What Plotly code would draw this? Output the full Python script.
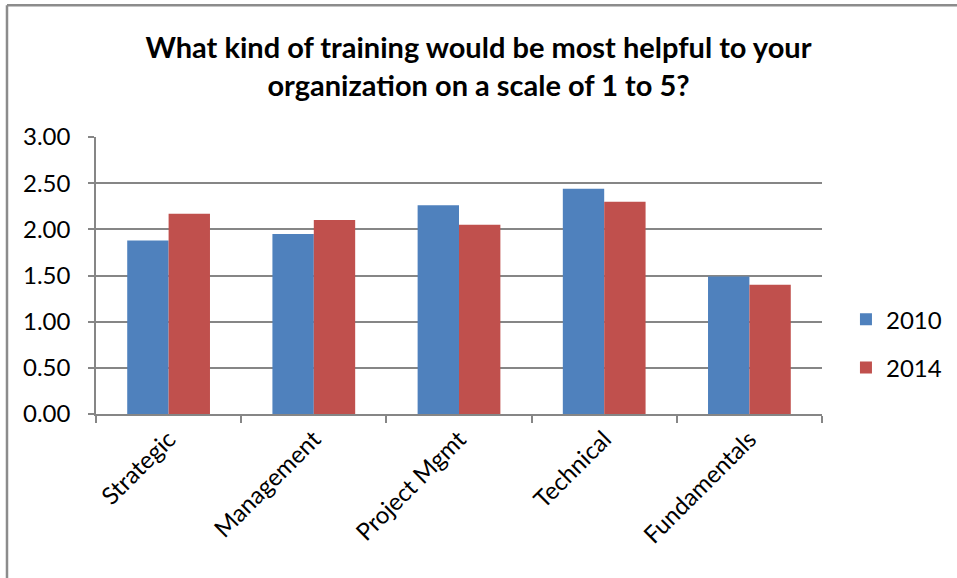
import plotly.graph_objects as go

CATEGORIES = ["Strategic", "Management", "Project Mgmt", "Technical", "Fundamentals"]
VALUES_2010 = [1.88, 1.95, 2.26, 2.44, 1.49]
VALUES_2014 = [2.17, 2.10, 2.05, 2.30, 1.40]
SERIES = [("2010", VALUES_2010, "#4F81BD"), ("2014", VALUES_2014, "#C0504D")]
Y_TICKS = [0, 0.5, 1.0, 1.5, 2.0, 2.5, 3.0]

FONT = "Lato, Calibri, 'Open Sans', sans-serif"
GRID = "#868686"

fig = go.Figure()
for name, vals, color in SERIES:
    fig.add_trace(go.Bar(x=CATEGORIES, y=vals, name=name, marker_color=color,
                         marker_line=dict(width=0), legendgroup=name))

fig.update_layout(
    width=957, height=578, plot_bgcolor="white", paper_bgcolor="white",
    barmode="group", bargap=0.43, bargroupgap=0,
    margin=dict(l=96, r=135, t=137, b=163.5, autoexpand=False),
    font=dict(family=FONT, size=24, color="black"),
    title=dict(text="<b>What kind of training would be most helpful to your<br>"
                    "organization on a scale of 1 to 5?</b>",
               x=0.5, xanchor="center", y=0.90, yanchor="top",
               font=dict(family=FONT, size=29, color="black")),
    xaxis=dict(showline=True, linecolor=GRID, linewidth=1.5, ticks="outside",
               tickson="boundaries", ticklen=7, tickcolor=GRID, tickwidth=1.5,
               tickangle=-45, showgrid=False, tickfont=dict(size=24),
               automargin=False),
    yaxis=dict(range=[0, 3], tickvals=Y_TICKS, tickformat=".2f", showline=True,
               linecolor=GRID, linewidth=1.5, ticks="outside", ticklen=6,
               tickcolor=GRID, tickwidth=1.5, gridcolor=GRID, gridwidth=1.5,
               zeroline=False, tickfont=dict(size=24), automargin=False,
               ticklabelstandoff=13),
    legend=dict(x=1.033, y=0.254, xanchor="left", yanchor="middle",
                font=dict(size=24), tracegroupgap=14, itemwidth=30),
    showlegend=True,
)

# chart border (top and left edges only visible)
fig.add_shape(type="line", xref="paper", yref="paper", x0=-0.1226, x1=1.19,
              y0=1.4757, y1=1.4757, line=dict(color="#8c8c8c", width=2.5))
fig.add_shape(type="line", xref="paper", yref="paper", x0=-0.1226, x1=-0.1226,
              y0=1.4757, y1=-0.6, line=dict(color="#8c8c8c", width=2.5))

# drop the browser's default body margin so the figure fills the window
fig.write_html("out.html", config={"displayModeBar": False},
               post_script="document.body.style.margin='0';")
